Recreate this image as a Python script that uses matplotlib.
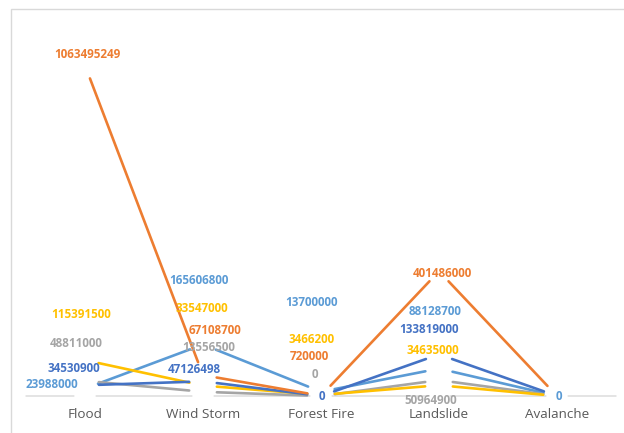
import matplotlib
matplotlib.use("Agg")
import matplotlib.pyplot as plt
from matplotlib.patches import Rectangle

categories = ["Flood", "Wind Storm", "Forest Fire", "Landslide", "Avalanche"]

light_blue_vals = [23988000, 165606800, 13700000, 88128700, 0]
orange_vals = [1063495249, 67108700, 720000, 401486000, 0]
gray_vals = [48811000, 13556500, 0, 50964900, 0]
yellow_vals = [115391500, 33547000, 3466200, 34635000, 0]
dark_blue_vals = [34530900, 47126498, 0, 133819000, 0]

# label offsets in pixels from each point (None = label not shown)
light_blue_offs = [(-33, 4), (-4, 64), (-10, 89), (-4, 57), (2, 0)]
orange_offs = [(2, 11), (12, 45), (-12, 39), (3, -2), None]
gray_offs = [(-9, 37), (6, 44), (-6, 21), (-8, -20), None]
yellow_offs = [(-4, 46), (-1, 77), (-9, 55), (-6, 35), None]
dark_blue_offs = [(-11, 17), (-9, 12), (1, 0), (-10, 25), None]

series = [
    (light_blue_vals, light_blue_offs, "#5B9BD5"),
    (gray_vals, gray_offs, "#A5A5A5"),
    (yellow_vals, yellow_offs, "#FFC000"),
    (dark_blue_vals, dark_blue_offs, "#4472C4"),
    (orange_vals, orange_offs, "#ED7D31"),
]

W, H = 624, 433
fig = plt.figure(figsize=(W / 100, H / 100), dpi=100)
fig.patch.set_facecolor("white")

# outer chart border
fig.patches.append(Rectangle((11 / W, -0.05), 1.0, (H - 9) / H + 0.05,
                             transform=fig.transFigure, fill=False,
                             edgecolor="#D9D9D9", lw=1.0))

ax = fig.add_axes([26 / W, 37 / H, 590 / W, 373 / H])
ax.set_xlim(-0.5, len(categories) - 0.5)
ax.set_ylim(0, 1.2e9)
ax.axis("off")

GAP = 10  # points trimmed off each segment end


def seg(x0, y0, x1, y1, color, lw, sa, sb, z=2):
    ax.annotate("", xy=(x1, y1), xytext=(x0, y0),
                arrowprops=dict(arrowstyle="-", color=color, lw=lw,
                                shrinkA=sa, shrinkB=sb),
                zorder=z, annotation_clip=False)


# baseline, broken at each category
xs = [-0.5] + list(range(len(categories))) + [len(categories) - 0.5]
for a, b in zip(xs[:-1], xs[1:]):
    sa = 8 if a in range(len(categories)) else 0
    sb = 8 if b in range(len(categories)) else 0
    seg(a, 0, b, 0, "#D9D9D9", 1.0, sa, sb, z=1)

for vals, offs, color in series:
    for i in range(len(vals) - 1):
        seg(i, vals[i], i + 1, vals[i + 1], color, 1.9, GAP, GAP)

for vals, offs, color in series:
    for i, (v, off) in enumerate(zip(vals, offs)):
        if off is None:
            continue
        ax.annotate(str(v), xy=(i, v), xytext=off, textcoords="offset pixels",
                    ha="center", va="center", color=color, fontsize=8.4,
                    fontweight="bold", family="Open Sans", zorder=3,
                    annotation_clip=False)

for i, c in enumerate(categories):
    ax.annotate(c, xy=(i, 0), xytext=(0, -18), textcoords="offset pixels",
                ha="center", va="center", color="#595959", fontsize=9.7,
                family="Open Sans", annotation_clip=False)

fig.savefig("out.png", dpi=100)
